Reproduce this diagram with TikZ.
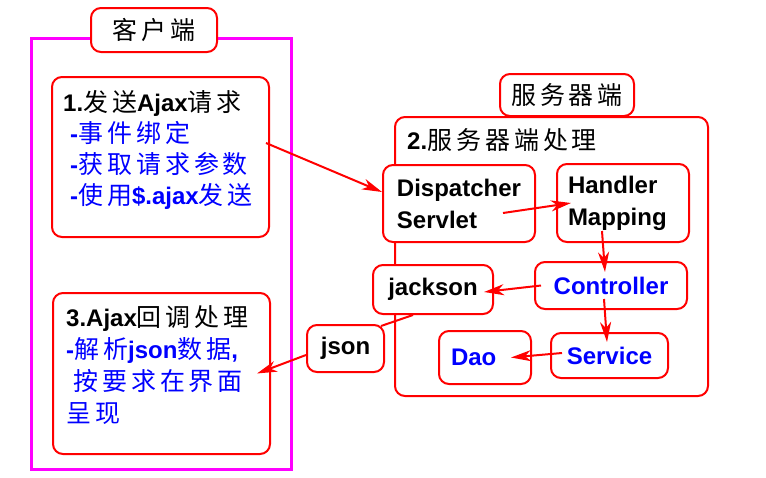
\documentclass[tikz,border=0pt]{standalone}
\usepackage{fontspec}
\setmainfont{Liberation Sans}
\newfontfamily\cjk{Noto Sans CJK SC}[LetterSpace=16,Scale=1.04]
\usetikzlibrary{arrows.meta,positioning}
\definecolor{clientpink}{RGB}{255,0,255}
\definecolor{srvred}{RGB}{255,0,0}
\definecolor{itemblue}{RGB}{0,0,255}
\newcommand{\zh}[1]{{\cjk\mdseries #1}}
\tikzset{
  rbox/.style={draw=srvred, line width=2pt, rounded corners=10pt, fill=white,
    inner sep=0pt},
  boxtext/.style={font=\fontsize{24}{31}\selectfont\bfseries,
    align=left, inner sep=0pt},
  compbox/.style={rbox, font=\fontsize{24}{32}\selectfont\bfseries,
    align=left},
  arr/.style={-{Stealth[length=20pt,width=11pt,inset=6pt]}, srvred,
    line width=2pt},
}

\begin{document}
\begin{tikzpicture}[x=1pt,y=-1pt]
  \useasboundingbox (0,0) rectangle (766,477);

  % Client side
  \node[draw=clientpink, line width=3pt, minimum width=260pt,
        minimum height=431pt] (client) at (161,253.5) {};
  \node[rbox, minimum width=126pt, minimum height=44pt,
        font=\fontsize{24}{28}\selectfont] (clientlbl) at (154,30)
    {\zh{客户端}};

  \node[rbox, minimum width=217pt, minimum height=160pt] (send)
    at (160.5,157) {};
  \node[boxtext, anchor=north west] (sendtxt) at (63,90)
    {1.\zh{发送}Ajax\zh{请求}\\
     \textcolor{itemblue}{\hspace*{7pt}-\zh{事件绑定}}\\
     \textcolor{itemblue}{\hspace*{7pt}-\zh{获取请求参数}}\\
     \textcolor{itemblue}{\hspace*{7pt}-\zh{使用}\$.ajax\zh{发送}}};

  \node[rbox, minimum width=217pt, minimum height=161pt] (callback)
    at (161.5,373.5) {};
  \node[boxtext, anchor=north west,
        font=\fontsize{24}{32}\selectfont\bfseries] (cbtxt) at (66,305)
    {3.Ajax\zh{回调处理}\\
     \textcolor{itemblue}{-\zh{解析}json\zh{数据},}\\
     \textcolor{itemblue}{\hspace*{7pt}\zh{按要求在界面}}\\
     \textcolor{itemblue}{\zh{呈现}}};

  % Server side
  \node[rbox, minimum width=313pt, minimum height=279pt] (server)
    at (551.5,256.5) {};
  \node[rbox, minimum width=134pt, minimum height=42pt,
        font=\fontsize{24}{28}\selectfont] (serverlbl) at (567,95)
    {\zh{服务器端}};
  \node[boxtext, anchor=west] (servertxt) at (407,140)
    {2.\zh{服务器端处理}};

  \node[compbox, minimum width=152pt, minimum height=77pt] (disp)
    at (459,203.5) {Dispatcher\\Servlet};
  \node[compbox, minimum width=132pt, minimum height=78pt,
        text width=110pt] (hmap) at (623,203) {Handler\\Mapping};
  \node[compbox, minimum width=120pt, minimum height=49pt] (jackson)
    at (433,289.5) {jackson};
  \node[compbox, minimum width=152pt, minimum height=47pt,
        text=itemblue] (ctrl) at (611,285.5) {Controller};
  \node[compbox, minimum width=92pt, minimum height=53pt,
        text width=68pt, text=itemblue] (dao) at (485,357.5) {Dao};
  \node[compbox, minimum width=117pt, minimum height=45pt,
        text=itemblue] (svc) at (609.5,355.5) {Service};
  \node[compbox, minimum width=77pt, minimum height=47pt] (json)
    at (345.5,348.5) {json};

  % Arrows
  \draw[arr] ([xshift=-4pt,yshift=14pt]send.east)
    -- ([yshift=11.5pt]disp.west);
  \draw[arr] ([xshift=-33pt,yshift=-9.5pt]disp.east)
    -- ([xshift=15pt]hmap.west);
  \draw[arr] ([xshift=-21pt,yshift=12pt]hmap.south)
    -- ([xshift=-6pt,yshift=-11pt]ctrl.north);
  \draw[arr] ([xshift=7pt]ctrl.west)
    -- ([xshift=-10pt,yshift=-2.5pt]jackson.east);
  \draw[arr] ([xshift=-7pt,yshift=11pt]ctrl.south)
    -- ([xshift=-2.5pt,yshift=-10pt]svc.north);
  \draw[arr] ([xshift=12pt,yshift=2.5pt]svc.west)
    -- ([xshift=-21pt]dao.east);
  \draw[srvred, line width=2pt] ([xshift=-20pt]jackson.south)
    -- ([xshift=-4pt,yshift=-2pt]json.north east);
  \draw[arr] ([yshift=-6.5pt]json.west)
    -- ([xshift=-14pt]callback.east);
\end{tikzpicture}
\end{document}
